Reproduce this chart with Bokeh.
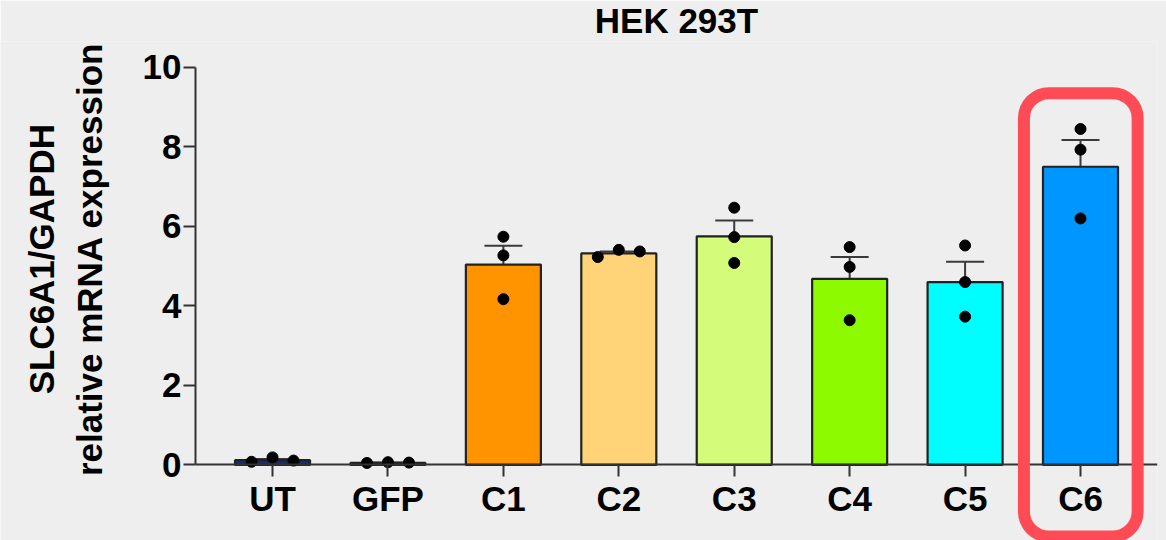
import math
from bokeh.plotting import figure
from bokeh.models import (ColumnDataSource, Whisker, TeeHead, BoxAnnotation,
                          FixedTicker, Label)
from bokeh.embed import file_html
from bokeh.resources import INLINE

# ---------------- data ----------------
categories = ["UT", "GFP", "C1", "C2", "C3", "C4", "C5", "C6"]
means = [0.12, 0.05, 5.04, 5.32, 5.75, 4.68, 4.60, 7.50]
sems = [0.03, 0.01, 0.47, 0.05, 0.40, 0.55, 0.51, 0.67]
rep_1 = [0.08, 0.05, 5.74, 5.23, 6.47, 5.48, 5.52, 8.45]
rep_2 = [0.19, 0.07, 5.27, 5.41, 5.73, 4.98, 4.60, 7.93]
rep_3 = [0.11, 0.06, 4.17, 5.37, 5.08, 3.64, 3.73, 6.20]
bar_colors = ["#1c2a72", "#3a3a3a", "#FF9300", "#FFD479", "#D4FB79",
              "#8EFA00", "#00FDFF", "#0096FF"]
y_ticks = [0, 2, 4, 6, 8, 10]
highlight = "C6"
title_text = "HEK 293T"
y_label = "SLC6A1/GAPDH\nrelative mRNA expression"

# ---------------- layout ----------------
W, H = 1166, 540
MR, MT = 9, 38
unit_px = 115.4          # px per category step
axis_left_px = 195       # where the y axis sits on the canvas
ax_x0, ax_x1 = -0.667, 7.667
x_start = ax_x0 - axis_left_px / unit_px
x_end = ax_x1
y_start, y_end = -1.9, 10.65
axis_lo, axis_hi = 0, 10
frame_w = W - MR
frame_h = H - MT
px_x = frame_w / (x_end - x_start)
px_y = frame_h / (y_end - y_start)

BG = "#eeeeee"
AX = "#333333"
FONT = "Liberation Sans"
FS = "35px"

p = figure(width=W, height=H, x_range=(x_start, x_end), y_range=(y_start, y_end),
           output_backend="svg", toolbar_location=None, tools="",
           min_border_left=0, min_border_right=MR, min_border_top=MT,
           min_border_bottom=0, background_fill_color=BG,
           border_fill_color=BG, outline_line_color=None)

p.title.text = title_text
p.title.align = "left"
p.title.offset = (axis_left_px + (ax_x1 - ax_x0) * px_x / 2) - 4.668 * 35 / 2
p.title.text_font = FONT
p.title.text_font_size = FS
p.title.text_font_style = "bold"
p.title.text_color = "black"
p.title.vertical_align = "top"
p.title.standoff = 0

p.xgrid.visible = False
p.ygrid.visible = False

xs = list(range(len(categories)))

# bars
src = ColumnDataSource(dict(x=xs, top=means, color=bar_colors,
                            upper=[m + s for m, s in zip(means, sems)],
                            lower=[m - s for m, s in zip(means, sems)]))
p.vbar(x="x", top="top", bottom=0, width=0.65, fill_color="color",
       line_color="#222222", line_width=2.2, source=src)

# error bars (mean +/- SEM)
w = Whisker(base="x", upper="upper", lower="lower", source=src,
            line_color="#3a3a3a", line_width=2,
            upper_head=TeeHead(size=38, line_color="#3a3a3a", line_width=2),
            lower_head=TeeHead(size=38, line_color="#3a3a3a", line_width=2))
p.add_layout(w)

# replicate dots with simple swarm offsets
dot_d = 11
step = 21
dx_all, dy_all = [], []
for i, _ in enumerate(categories):
    vals = [rep_1[i], rep_2[i], rep_3[i]]
    order = sorted(vals, reverse=True)
    placed = []
    for v in order:
        for k in [0, 1, -1, 2, -2, 3, -3]:
            d = k * step
            if all(not (abs(d - pd) < dot_d and abs((v - pv) * px_y) < dot_d)
                   for pd, pv in placed):
                placed.append((d, v))
                break
    for d, v in placed:
        dx_all.append(i + d / px_x)
        dy_all.append(v)
p.scatter(dx_all, dy_all, size=dot_d, color="black")

# highlight box around selected category
hi = categories.index(highlight)
box = BoxAnnotation(left=hi - 0.49, right=hi + 0.495, top=9.35, bottom=-1.8,
                    fill_color=None, fill_alpha=0, line_color="#ff4b55",
                    line_alpha=1.0, line_width=12, border_radius=25)
p.add_layout(box)

# axes
for ax in (p.xaxis, p.yaxis):
    ax.axis_line_color = AX
    ax.axis_line_width = 2
    ax.major_tick_line_color = AX
    ax.major_tick_line_width = 2
    ax.major_tick_out = 12
    ax.major_tick_in = 0
    ax.minor_tick_line_color = None
    ax.major_label_text_font = FONT
    ax.major_label_text_font_size = FS
    ax.major_label_text_font_style = "bold"
    ax.major_label_text_color = "black"
    ax.major_label_standoff = 2

p.xaxis.ticker = FixedTicker(ticks=xs)
p.xaxis.major_label_overrides = {i: c for i, c in enumerate(categories)}
p.xaxis.fixed_location = 0
p.xaxis.bounds = (ax_x0, ax_x1)
p.yaxis.ticker = FixedTicker(ticks=y_ticks)
p.yaxis.fixed_location = ax_x0
p.yaxis.bounds = (axis_lo, axis_hi)

# y-axis title, centred on the 0-10 axis line
ylab = Label(x=x_start + 65 / px_x, y=(axis_lo + axis_hi) / 2 + 7 / px_y,
             text=y_label, angle=math.pi / 2, text_align="center",
             text_baseline="middle", text_font=FONT, text_font_size=FS,
             text_font_style="bold", text_color="black", text_line_height=1.25)
p.add_layout(ylab)

html = file_html(p, INLINE)
html = html.replace("<body>", '<body style="background:#eeeeee">', 1)
open("out.html", "w").write(html)
